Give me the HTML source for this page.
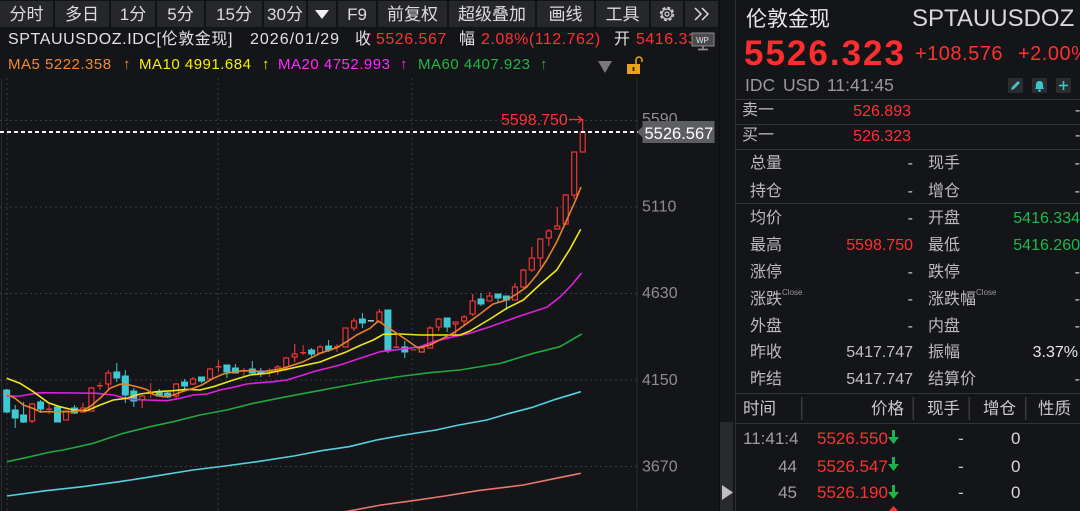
<!DOCTYPE html>
<html><head><meta charset="utf-8">
<style>
*{margin:0;padding:0;box-sizing:border-box}
html,body{width:1080px;height:511px;overflow:hidden;background:#141519}
body{position:relative;font-family:"Liberation Sans","Noto Sans CJK SC",sans-serif;color:#d8d8d8}
.t{position:absolute;white-space:nowrap;line-height:1}
.btn{position:absolute;top:1px;height:26px;background:#26272b;display:flex;align-items:center;justify-content:center;font-size:17px;color:#dcdcdc;line-height:1}
.lab{position:absolute;font-size:16px;color:#bcbcbc;line-height:1;white-space:nowrap}
.vl{position:absolute;font-size:16px;line-height:1;white-space:nowrap;text-align:right}
.sup{font-size:8px;color:#9a9a9a;vertical-align:top;position:relative;top:-3px}
.clip{position:absolute;overflow:hidden;height:20px}
.clip span{position:absolute;top:0;line-height:1;white-space:nowrap}
.hl{position:absolute;left:735px;width:345px;height:1px;background:#33343a}
</style></head><body>

<svg width="1080" height="511" style="position:absolute;left:0;top:0" xmlns="http://www.w3.org/2000/svg">
  <!-- toolbar background gaps -->
  <rect x="0" y="0" width="719" height="28" fill="#121316"/>
  <!-- left border -->
  <line x1="1.5" y1="78" x2="1.5" y2="511" stroke="#2a2b30" stroke-width="1"/>
  <!-- gridlines -->
  <g stroke="#3a3b40" stroke-width="1" stroke-dasharray="2,3">
    <line x1="0" y1="120.5" x2="637" y2="120.5"/>
    <line x1="0" y1="207" x2="637" y2="207"/>
    <line x1="0" y1="293.5" x2="637" y2="293.5"/>
    <line x1="0" y1="380" x2="637" y2="380"/>
    <line x1="0" y1="466.5" x2="637" y2="466.5"/>
    <line x1="7" y1="78" x2="7" y2="511"/>
    <line x1="218" y1="78" x2="218" y2="511"/>
    <line x1="412" y1="78" x2="412" y2="511"/>
  </g>
  <!-- axis separator -->
  <line x1="637" y1="78" x2="637" y2="511" stroke="#2c2d32" stroke-width="1"/>
  <line x1="719.5" y1="0" x2="719.5" y2="511" stroke="#0d0e10" stroke-width="1"/>
  <line x1="735.5" y1="0" x2="735.5" y2="511" stroke="#2e2f34" stroke-width="1"/>

  <!-- long MAs -->
  <polyline fill="none" stroke="#e8786f" stroke-width="1.6" stroke-linejoin="round" points="338,513 349,511 381,505 413,500.7 445,496 477.5,490.7 523.4,485 551,479.3 580.8,473.3"/>
  <polyline fill="none" stroke="#52d2de" stroke-width="1.6" stroke-linejoin="round" points="6.9,496 46,490.7 82.6,486.7 119.4,481.7 151.5,476.7 192.8,470 225,466 257,461.7 293.8,456 321.4,450.7 349,446.7 376.5,440 404,435 436,430 459,425 486.7,420 509.6,413.3 532.6,407.3 555.6,399.3 580.8,391.7"/>
  <polyline fill="none" stroke="#20a83e" stroke-width="1.6" stroke-linejoin="round" points="6.9,461.7 27.5,457.3 50.5,452 63.3,450 93.3,443.3 123.3,433.3 150,426.7 173.3,421.7 200,415 226.7,410 253.3,403.3 283.3,397.3 313.3,391.7 349,385 376.7,380 403.3,376 430,372.7 460,370 490,365 500,363.5 533.3,353.3 560,346.7 581.7,334"/>

  <!-- candles -->
  <g stroke-width="1">
  <!-- cyan: filled -->
  <g stroke="#3fc8d2" fill="#3fc8d2">
    <line x1="6.7" y1="389" x2="6.7" y2="413"/><rect x="3.7" y="390" width="6" height="22"/>
    <line x1="15.2" y1="405" x2="15.2" y2="428"/><rect x="12.2" y="410" width="6" height="8"/>
    <line x1="23.6" y1="402" x2="23.6" y2="423"/><rect x="20.6" y="415" width="6" height="7"/>
    <line x1="40.6" y1="400" x2="40.6" y2="413"/><rect x="37.6" y="402" width="6" height="7"/>
    <line x1="57.5" y1="406" x2="57.5" y2="422"/><rect x="54.5" y="407" width="6" height="15"/>
    <line x1="74.5" y1="405" x2="74.5" y2="414"/><rect x="71.5" y="408" width="6" height="5"/>
    <line x1="116.8" y1="363" x2="116.8" y2="382"/><rect x="113.8" y="372" width="6" height="6"/>
    <line x1="125.3" y1="370" x2="125.3" y2="403"/><rect x="122.3" y="376" width="6" height="19"/>
    <line x1="133.8" y1="388" x2="133.8" y2="407"/><rect x="130.8" y="391" width="6" height="10"/>
    <line x1="159.2" y1="389" x2="159.2" y2="397"/><rect x="156.2" y="392" width="6" height="4"/>
    <line x1="167.6" y1="392" x2="167.6" y2="398"/><rect x="164.6" y="393" width="6" height="4"/>
    <line x1="184.6" y1="379" x2="184.6" y2="389"/><rect x="181.6" y="382" width="6" height="4"/>
    <line x1="201.5" y1="377" x2="201.5" y2="383"/><rect x="198.5" y="377" width="6" height="4"/>
    <line x1="226.9" y1="365" x2="226.9" y2="378"/><rect x="223.9" y="365" width="6" height="7"/>
    <line x1="235.4" y1="364" x2="235.4" y2="373"/><rect x="232.4" y="368" width="6" height="5"/>
    <line x1="252.3" y1="361" x2="252.3" y2="374"/><rect x="249.3" y="369" width="6" height="4"/>
    <line x1="260.8" y1="368" x2="260.8" y2="377"/><rect x="257.8" y="371" width="6" height="3"/>
    <line x1="311.6" y1="348" x2="311.6" y2="358"/><rect x="308.6" y="350" width="6" height="4"/>
    <line x1="328.6" y1="340" x2="328.6" y2="352"/><rect x="325.6" y="346" width="6" height="4"/>
    <line x1="362.4" y1="313" x2="362.4" y2="328"/><rect x="359.4" y="319" width="6" height="4"/>
    <line x1="387.9" y1="310" x2="387.9" y2="353"/><rect x="384.9" y="310" width="6" height="41"/>
    <line x1="404.8" y1="341" x2="404.8" y2="358"/><rect x="401.8" y="347" width="6" height="5"/>
    <line x1="447.1" y1="318" x2="447.1" y2="332"/><rect x="444.1" y="318" width="6" height="9"/>
    <line x1="481" y1="293" x2="481" y2="306"/><rect x="478" y="299" width="6" height="5"/>
    <line x1="498" y1="294" x2="498" y2="302"/><rect x="495" y="294" width="6" height="4"/>
    <line x1="506.4" y1="296" x2="506.4" y2="310"/><rect x="503.4" y="296" width="6" height="4"/>
  </g>
  <!-- red: hollow -->
  <g stroke="#ee3535" fill="#141519" stroke-width="1.2">
    <line x1="32.1" y1="403" x2="32.1" y2="423"/><rect x="29.6" y="404" width="5" height="17"/>
    <rect x="63.5" y="411" width="5" height="9"/>
    <line x1="82.9" y1="403" x2="82.9" y2="412"/><rect x="80.4" y="408" width="5" height="4"/>
    <line x1="91.4" y1="387" x2="91.4" y2="411"/><rect x="88.9" y="388" width="5" height="23"/>
    <line x1="108.3" y1="370" x2="108.3" y2="390"/><rect x="105.8" y="373" width="5" height="11"/>
    <line x1="142.2" y1="395" x2="142.2" y2="408"/><rect x="139.7" y="396" width="5" height="4"/>
    <line x1="176.1" y1="383" x2="176.1" y2="400"/><rect x="173.6" y="384" width="5" height="12"/>
    <line x1="193" y1="377" x2="193" y2="385"/><rect x="190.5" y="379" width="5" height="5"/>
    <line x1="210" y1="368" x2="210" y2="380"/><rect x="207.5" y="369" width="5" height="10"/>
    <line x1="277.7" y1="365" x2="277.7" y2="375"/><rect x="275.2" y="367" width="5" height="4"/>
    <line x1="286.2" y1="357" x2="286.2" y2="371"/><rect x="283.7" y="358" width="5" height="9"/>
    <line x1="294.7" y1="344" x2="294.7" y2="362"/><rect x="292.2" y="354" width="5" height="3"/>
    <line x1="320.1" y1="345" x2="320.1" y2="353"/><rect x="317.6" y="347" width="5" height="6"/>
    <rect x="343" y="328" width="5" height="19"/>
    <line x1="354" y1="318" x2="354" y2="331"/><rect x="351.5" y="321" width="5" height="7"/>
    <line x1="379.4" y1="309" x2="379.4" y2="322"/><rect x="376.9" y="312" width="5" height="10"/>
    <line x1="430.2" y1="326" x2="430.2" y2="348"/><rect x="427.7" y="328" width="5" height="20"/>
    <line x1="438.7" y1="318" x2="438.7" y2="331"/><rect x="436.2" y="319" width="5" height="8"/>
    <line x1="455.6" y1="322" x2="455.6" y2="334"/><rect x="453.1" y="322" width="5" height="2"/>
    <line x1="464.1" y1="315" x2="464.1" y2="325"/><rect x="461.6" y="317" width="5" height="4"/>
    <line x1="472.6" y1="294" x2="472.6" y2="316"/><rect x="470.1" y="301" width="5" height="13"/>
    <line x1="489.5" y1="292" x2="489.5" y2="301"/><rect x="487" y="296" width="5" height="5"/>
    <line x1="514.9" y1="283" x2="514.9" y2="300"/><rect x="512.4" y="287" width="5" height="13"/>
    <line x1="523.4" y1="269" x2="523.4" y2="288"/><rect x="520.9" y="270" width="5" height="17"/>
    <line x1="531.8" y1="247" x2="531.8" y2="272"/><rect x="529.3" y="258" width="5" height="12"/>
    <line x1="540.3" y1="238" x2="540.3" y2="267"/><rect x="537.8" y="239" width="5" height="19"/>
    <line x1="548.8" y1="229" x2="548.8" y2="246"/><rect x="546.3" y="231" width="5" height="7"/>
    <line x1="557.3" y1="207" x2="557.3" y2="229"/><rect x="554.8" y="226" width="5" height="3"/>
    <line x1="565.7" y1="194" x2="565.7" y2="225"/><rect x="563.2" y="195" width="5" height="29"/>
    <line x1="574.2" y1="152" x2="574.2" y2="199"/><rect x="571.7" y="152" width="5" height="43"/>
    <line x1="582.7" y1="119" x2="582.7" y2="132"/><rect x="580.2" y="132" width="5" height="20"/>
  </g>
  <!-- crosses -->
  <g stroke="#ee3535" fill="#ee3535">
    <line x1="49.1" y1="403" x2="49.1" y2="414"/><rect x="46.1" y="408.5" width="6" height="1.5" stroke="none"/>
    <line x1="99.9" y1="382" x2="99.9" y2="390"/><rect x="96.9" y="385" width="6" height="1.5" stroke="none"/>
    <line x1="150.7" y1="383" x2="150.7" y2="398"/><rect x="147.7" y="392.5" width="6" height="1.5" stroke="none"/>
    <line x1="218.5" y1="360" x2="218.5" y2="372"/><rect x="215.5" y="366" width="6" height="1.5" stroke="none"/>
    <line x1="243.9" y1="368" x2="243.9" y2="376"/><rect x="240.9" y="370" width="6" height="1.5" stroke="none"/>
    <line x1="269.3" y1="368" x2="269.3" y2="377"/><rect x="266.3" y="370" width="6" height="1.5" stroke="none"/>
    <line x1="303.2" y1="345" x2="303.2" y2="355"/><rect x="300.2" y="352" width="6" height="1.5" stroke="none"/>
    <line x1="337" y1="344" x2="337" y2="352"/><rect x="334" y="346" width="6" height="1.5" stroke="none"/>
    <line x1="396.3" y1="333" x2="396.3" y2="348"/><rect x="393.3" y="346.5" width="6" height="1.5" stroke="none"/>
  </g>
  <rect x="367.9" y="320" width="6" height="1.6" fill="#b8b8b8"/>
  <rect x="410.3" y="349" width="6" height="1.6" fill="#b03030"/>
  <rect x="419.2" y="348" width="5" height="4" fill="none" stroke="#e05a2a" stroke-width="1.2"/>
  </g>

  <!-- short MAs -->
  <polyline fill="none" stroke="#e020e0" stroke-width="1.6" stroke-linejoin="round" points="6.7,396.3 20,396 40,392.7 73.3,393 96.7,393.3 113.3,395 130,399.3 146.7,400 166.7,400.7 180,398.3 193.3,395 206.7,394 220,390 233.3,387.3 246.7,384 260,382.7 273.3,381.7 286.7,380 300,376 313.3,371.7 320,370 340,365 360,358.3 380,351.7 400,349.3 420,346.7 433.3,341.7 453.3,336.7 470,333.3 490,326.7 520,316 546.7,307.3 560,297 571.7,285 581.5,273"/>
  <polyline fill="none" stroke="#f0e614" stroke-width="1.6" stroke-linejoin="round" points="6.7,378.3 20,383.3 33.3,391.7 48.3,402.7 60,406.7 73.3,410 86.7,410.7 100,405 113.3,400 126.7,398.3 140,394 156.7,391.7 173.3,390.7 186.7,389.3 200,390 213.3,386.7 233.3,380 250,375 266.7,373.3 283.3,370 300,366.3 320,362 333.3,356.7 346.7,351.7 360,345.5 373.3,340 383.3,334.3 400,334 420,335 440,335 460,335 470,331 483.3,323 490,319 506.7,308.3 523.3,300 540,284.5 556.7,270 570,249 580.7,229.3"/>
  <polyline fill="none" stroke="#e8822a" stroke-width="1.6" stroke-linejoin="round" points="6.7,394 15,398.3 23.3,405 33.3,408.5 40,411.7 50,411.7 60,411.7 73.3,411.7 83.3,410 90,406.7 100,398.3 110,388.3 120,384.3 125,384 136.7,386.7 146.7,389.5 153.3,394.5 163.3,396.7 173.3,395 181.7,391.7 193.3,388.3 201.7,385 213.3,378.3 223.3,374 233.3,372 243.3,370.7 253.3,371 263.3,371.7 273.3,370 283.3,368.3 293.3,365 303.3,361.7 313.3,356.7 320,353.3 330,350 336.7,347.7 346.7,341.7 356.7,335 370,328.3 378.3,321 386.7,326.7 396.7,333.3 406.7,340 418,348 430,345 443,338.3 455,332 467,323.3 480,314 493,304 506.7,300 516.7,294 526.7,287 536.7,275 546.7,260 556.7,242 566.7,220 575,201.7 581,187"/>

  <!-- current price dashed line -->
  <line x1="0" y1="132" x2="638" y2="132" stroke="#f2f2f2" stroke-width="2" stroke-dasharray="4,3"/>

  <!-- high label -->
  <text x="501" y="125" font-family="Liberation Sans" font-size="16" fill="#ff3030">5598.750</text>
  <line x1="569" y1="119.5" x2="582" y2="119.5" stroke="#ff3030" stroke-width="1.2"/>
  <polyline points="578,116 582,119.5 578,123" fill="none" stroke="#ff3030" stroke-width="1.2"/>

  <!-- y axis labels -->
  <g font-family="Liberation Sans" font-size="16" fill="#8e8e8e">
    <text x="642" y="124">5590</text>
    <text x="642" y="211.5">5110</text>
    <text x="642" y="298">4630</text>
    <text x="642" y="385">4150</text>
    <text x="642" y="471.5">3670</text>
  </g>
  <polygon points="637,132 643,126 643,138" fill="#5d5e62"/>
  <rect x="642.5" y="121" width="72" height="22" fill="#5d5e62"/>
  <text x="644.5" y="139" font-family="Liberation Sans" font-size="16.5" fill="#ffffff">5526.567</text>

  <!-- toolbar icons -->
  <polygon points="315,10 329,10 322,19" fill="#f0f0f0"/>
  <!-- MA row triangle & lock -->
  <polygon points="598,61 612,61 605,73" fill="#7a7a7a"/>
  <path d="M636,64 V60 a3,3 0 0 1 6,0 V62" fill="none" stroke="#e8a317" stroke-width="1.6"/>
  <rect x="627" y="64" width="13" height="10" fill="#e8a317"/>
  <rect x="632.5" y="67" width="2" height="4" fill="#3a2a00"/>
  <!-- WP icon -->
  <rect x="692" y="33" width="22" height="13" fill="#4a4b4f" stroke="#8a8a8a" stroke-width="1"/>
  <text x="696" y="43" font-family="Liberation Sans" font-size="8" fill="#e0e0e0">WP</text>
  <line x1="703" y1="46" x2="703" y2="49" stroke="#8a8a8a" stroke-width="1.5"/>
  <line x1="698" y1="49.5" x2="708" y2="49.5" stroke="#8a8a8a" stroke-width="1.5"/>

  <!-- right panel icons -->
  <rect x="1008" y="78" width="15" height="15" rx="1" fill="#2a2c30"/>
  <path d="M1011,90 L1012,87 L1018,81 L1020,83 L1014,89 Z" fill="#3cc8cc"/>
  <rect x="1032" y="78" width="15" height="15" rx="1" fill="#2a2c30"/>
  <path d="M1035,89 Q1036,88 1036,85 Q1036,81 1039.5,81 Q1043,81 1043,85 Q1043,88 1044,89 Z" fill="#3cc8cc"/>
  <circle cx="1039.5" cy="90.5" r="1.3" fill="#3cc8cc"/>
  <rect x="1056" y="78" width="15" height="15" rx="1" fill="#2a2c30"/>
  <line x1="1063.5" y1="81" x2="1063.5" y2="90" stroke="#3cc8cc" stroke-width="1.6"/>
  <line x1="1059" y1="85.5" x2="1068" y2="85.5" stroke="#3cc8cc" stroke-width="1.6"/>

  <!-- bottom table separators -->
  <g stroke="#3a3b40" stroke-width="1.5">
    <line x1="801.7" y1="397" x2="801.7" y2="420"/>
    <line x1="913.3" y1="397" x2="913.3" y2="420"/>
    <line x1="969.3" y1="397" x2="969.3" y2="420"/>
    <line x1="1025.7" y1="397" x2="1025.7" y2="420"/>
  </g>
  <rect x="720" y="422" width="13" height="89" fill="#292a2e"/>
  <polygon points="722,485 733,492.5 722,500" fill="#bfbfbf"/>
  <!-- green arrows -->
  <g fill="#1db34a">
    <rect x="892" y="430" width="3" height="8"/><polygon points="888,437 899,437 893.5,444"/>
    <rect x="892" y="457" width="3" height="8"/><polygon points="888,464 899,464 893.5,471"/>
    <rect x="892" y="485" width="3" height="8"/><polygon points="888,492 899,492 893.5,499"/>
  </g>
  <polygon points="889,511 893.5,506 898,511" fill="#ee3535"/>
</svg>

<!-- toolbar -->
<div class="btn" style="left:0;width:53px">分时</div>
<div class="btn" style="left:55px;width:54px">多日</div>
<div class="btn" style="left:111px;width:44px">1分</div>
<div class="btn" style="left:157px;width:47px">5分</div>
<div class="btn" style="left:206px;width:56px">15分</div>
<div class="btn" style="left:264px;width:42px">30分</div>
<div class="btn" style="left:308px;width:28px;background:#26272b"></div>
<div class="btn" style="left:338px;width:38px">F9</div>
<div class="btn" style="left:378px;width:69px">前复权</div>
<div class="btn" style="left:449px;width:86px">超级叠加</div>
<div class="btn" style="left:537px;width:57px">画线</div>
<div class="btn" style="left:596px;width:53px">工具</div>
<div class="btn" style="left:651px;width:32px">
  <svg width="20" height="20" viewBox="0 0 20 20"><circle cx="10" cy="10" r="6.5" fill="none" stroke="#d0d0d0" stroke-width="1.5" stroke-dasharray="3.2,1.9"/><circle cx="10" cy="10" r="5" fill="none" stroke="#d0d0d0" stroke-width="1.2"/><circle cx="10" cy="10" r="2" fill="none" stroke="#d0d0d0" stroke-width="1.2"/></svg>
</div>
<div class="btn" style="left:685px;width:33px">
  <svg width="18" height="14" viewBox="0 0 18 14"><polyline points="2,1 8,7 2,13" fill="none" stroke="#dcdcdc" stroke-width="1.5"/><polyline points="9,1 15,7 9,13" fill="none" stroke="#dcdcdc" stroke-width="1.5"/></svg>
</div>
<svg width="30" height="28" style="position:absolute;left:307px;top:0"><polygon points="8,10 22,10 15,19" fill="#f0f0f0"/></svg>

<!-- info row -->
<div class="t" style="left:8px;top:32px;font-size:16px;color:#e2e2e2;letter-spacing:0.6px">SPTAUUSDOZ.IDC[伦敦金现]</div>
<div class="t" style="left:250px;top:32px;font-size:16px;color:#e2e2e2;letter-spacing:1px">2026/01/29</div>
<div class="t" style="left:355px;top:32px;font-size:16px;color:#e2e2e2">收</div>
<div class="t" style="left:376px;top:32px;font-size:16px;color:#ff3030;letter-spacing:0.5px">5526.567</div>
<div class="t" style="left:459px;top:32px;font-size:16px;color:#e2e2e2">幅</div>
<div class="t" style="left:481px;top:32px;font-size:16px;color:#ff3030;letter-spacing:0.5px">2.08%(112.762)</div>
<div class="t" style="left:614px;top:32px;font-size:16px;color:#e2e2e2">开</div>
<div class="t" style="left:636px;top:32px;font-size:16px;color:#ff3030;letter-spacing:0.5px">5416.334</div>
<svg width="26" height="20" style="position:absolute;left:690px;top:31px"><rect x="2" y="2" width="22" height="13" fill="#4a4b4f" stroke="#8a8a8a" stroke-width="1"/><text x="6" y="12" font-family="Liberation Sans" font-size="8" fill="#e0e0e0">WP</text><line x1="13" y1="15" x2="13" y2="18" stroke="#8a8a8a" stroke-width="1.5"/><line x1="8" y1="18.5" x2="18" y2="18.5" stroke="#8a8a8a" stroke-width="1.5"/></svg>

<!-- MA row -->
<div class="t" style="left:8px;top:56.5px;font-size:15px;color:#f08a30;letter-spacing:0.5px">MA5 5222.358</div>
<div class="t" style="left:123px;top:56.5px;font-size:15px;color:#f08a30">↑</div>
<div class="t" style="left:139px;top:56.5px;font-size:15px;color:#f5f000;letter-spacing:0.5px">MA10 4991.684</div>
<div class="t" style="left:262px;top:56.5px;font-size:15px;color:#f5f000">↑</div>
<div class="t" style="left:278px;top:56.5px;font-size:15px;color:#ff28ff;letter-spacing:0.5px">MA20 4752.993</div>
<div class="t" style="left:400px;top:56.5px;font-size:15px;color:#ff28ff">↑</div>
<div class="t" style="left:418px;top:56.5px;font-size:15px;color:#22b545;letter-spacing:0.5px">MA60 4407.923</div>
<div class="t" style="left:540px;top:56.5px;font-size:15px;color:#22b545">↑</div>

<!-- right panel header -->
<div class="t" style="left:746px;top:8.5px;font-size:21px;color:#e8e8e8">伦敦金现</div>
<div class="t" style="left:912px;top:7px;font-size:24px;color:#d8d8d8">SPTAUUSDOZ</div>
<div class="t" style="left:744px;top:35.5px;font-size:35px;font-weight:bold;color:#ff2d2d;letter-spacing:2px">5526.323</div>
<div class="t" style="left:915px;top:44px;font-size:20px;color:#ff3030;letter-spacing:0.5px">+108.576</div>
<div class="t" style="left:1018px;top:44px;font-size:20px;color:#ff3030;letter-spacing:0.5px">+2.00%</div>
<div class="t" style="left:745px;top:77px;font-size:17.5px;color:#9a9a9a">IDC</div>
<div class="t" style="left:783px;top:77px;font-size:17.5px;color:#9a9a9a">USD</div>
<div class="t" style="left:827px;top:77px;font-size:17.5px;color:#9a9a9a">11:41:45</div>

<div class="hl" style="top:98.5px"></div>
<div class="lab" style="left:742px;top:103px">卖一</div>
<div class="clip" style="left:853px;top:103.5px;width:58px"><span style="right:0;font-size:16px;color:#ff3030">5526.893</span></div>
<div class="t" style="left:1075px;top:103px;font-size:16px;color:#c8c8c8">-</div>
<div class="hl" style="top:123.5px"></div>
<div class="lab" style="left:742px;top:128px">买一</div>
<div class="clip" style="left:853px;top:128.5px;width:58px"><span style="right:0;font-size:16px;color:#ff3030">5526.323</span></div>
<div class="t" style="left:1075px;top:128px;font-size:16px;color:#c8c8c8">-</div>
<div class="hl" style="top:148.5px"></div>

<!-- stats -->
<div class="lab" style="left:750px;top:156px">总量</div>
<div class="vl" style="right:167px;top:156px;color:#c8c8c8">-</div>
<div class="lab" style="left:928px;top:156px">现手</div>
<div class="vl" style="right:0;top:156px;color:#c8c8c8">-</div>

<div class="lab" style="left:750px;top:183.7px">持仓</div>
<div class="vl" style="right:167px;top:183.7px;color:#c8c8c8">-</div>
<div class="lab" style="left:928px;top:183.7px">增仓</div>
<div class="vl" style="right:0;top:183.7px;color:#c8c8c8">-</div>

<div class="hl" style="top:203px"></div>

<div class="lab" style="left:750px;top:211.3px">均价</div>
<div class="vl" style="right:167px;top:211.3px;color:#c8c8c8">-</div>
<div class="lab" style="left:928px;top:211.3px">开盘</div>
<div class="vl" style="right:0;top:211.3px;color:#1fb84a">5416.334</div>

<div class="lab" style="left:750px;top:238px">最高</div>
<div class="vl" style="right:167px;top:238px;color:#ff3030">5598.750</div>
<div class="lab" style="left:928px;top:238px">最低</div>
<div class="vl" style="right:0;top:238px;color:#1fb84a">5416.260</div>

<div class="lab" style="left:750px;top:265px">涨停</div>
<div class="vl" style="right:167px;top:265px;color:#c8c8c8">-</div>
<div class="lab" style="left:928px;top:265px">跌停</div>
<div class="vl" style="right:0;top:265px;color:#c8c8c8">-</div>

<div class="lab" style="left:750px;top:292px">涨跌<span class="sup">Close</span></div>
<div class="vl" style="right:167px;top:292px;color:#c8c8c8">-</div>
<div class="lab" style="left:928px;top:292px">涨跌幅<span class="sup">Close</span></div>
<div class="vl" style="right:0;top:292px;color:#c8c8c8">-</div>

<div class="lab" style="left:750px;top:318.7px">外盘</div>
<div class="vl" style="right:167px;top:318.7px;color:#c8c8c8">-</div>
<div class="lab" style="left:928px;top:318.7px">内盘</div>
<div class="vl" style="right:0;top:318.7px;color:#c8c8c8">-</div>

<div class="lab" style="left:750px;top:345px">昨收</div>
<div class="vl" style="right:167px;top:345px;color:#c0c0c0">5417.747</div>
<div class="lab" style="left:928px;top:345px">振幅</div>
<div class="vl" style="right:2px;top:345px;color:#e8e8e8">3.37%</div>

<div class="lab" style="left:750px;top:372px">昨结</div>
<div class="vl" style="right:167px;top:372px;color:#c0c0c0">5417.747</div>
<div class="lab" style="left:928px;top:372px">结算价</div>
<div class="vl" style="right:0;top:372px;color:#c8c8c8">-</div>

<div class="hl" style="top:392.5px"></div>

<!-- tick table header -->
<div class="lab" style="left:743px;top:401px;font-size:16.5px;color:#c8c8c8">时间</div>
<div class="lab" style="left:871px;top:401px;font-size:16.5px;color:#c8c8c8">价格</div>
<div class="lab" style="left:927px;top:401px;font-size:16.5px;color:#c8c8c8">现手</div>
<div class="lab" style="left:983px;top:401px;font-size:16.5px;color:#c8c8c8">增仓</div>
<div class="lab" style="left:1038px;top:401px;font-size:16.5px;color:#c8c8c8">性质</div>
<div class="hl" style="top:423px"></div>

<!-- tick rows -->
<div class="clip" style="left:743px;top:430px;width:55px"><span style="left:0;font-size:17px;color:#a0a0a0">11:41:45</span></div>
<div class="t" style="left:817px;top:430px;font-size:17px;color:#ff3030">5526.550</div>
<div class="t" style="left:958px;top:430px;font-size:17px;color:#c8c8c8">-</div>
<div class="t" style="left:1011px;top:430px;font-size:17px;color:#d8d8d8">0</div>

<div class="vl" style="right:283px;top:457.5px;font-size:17px;color:#a0a0a0">44</div>
<div class="t" style="left:817px;top:457.5px;font-size:17px;color:#ff3030">5526.547</div>
<div class="t" style="left:958px;top:457.5px;font-size:17px;color:#c8c8c8">-</div>
<div class="t" style="left:1011px;top:457.5px;font-size:17px;color:#d8d8d8">0</div>

<div class="vl" style="right:283px;top:484px;font-size:17px;color:#a0a0a0">45</div>
<div class="t" style="left:817px;top:484px;font-size:17px;color:#ff3030">5526.190</div>
<div class="t" style="left:958px;top:484px;font-size:17px;color:#c8c8c8">-</div>
<div class="t" style="left:1011px;top:484px;font-size:17px;color:#d8d8d8">0</div>

</body></html>
